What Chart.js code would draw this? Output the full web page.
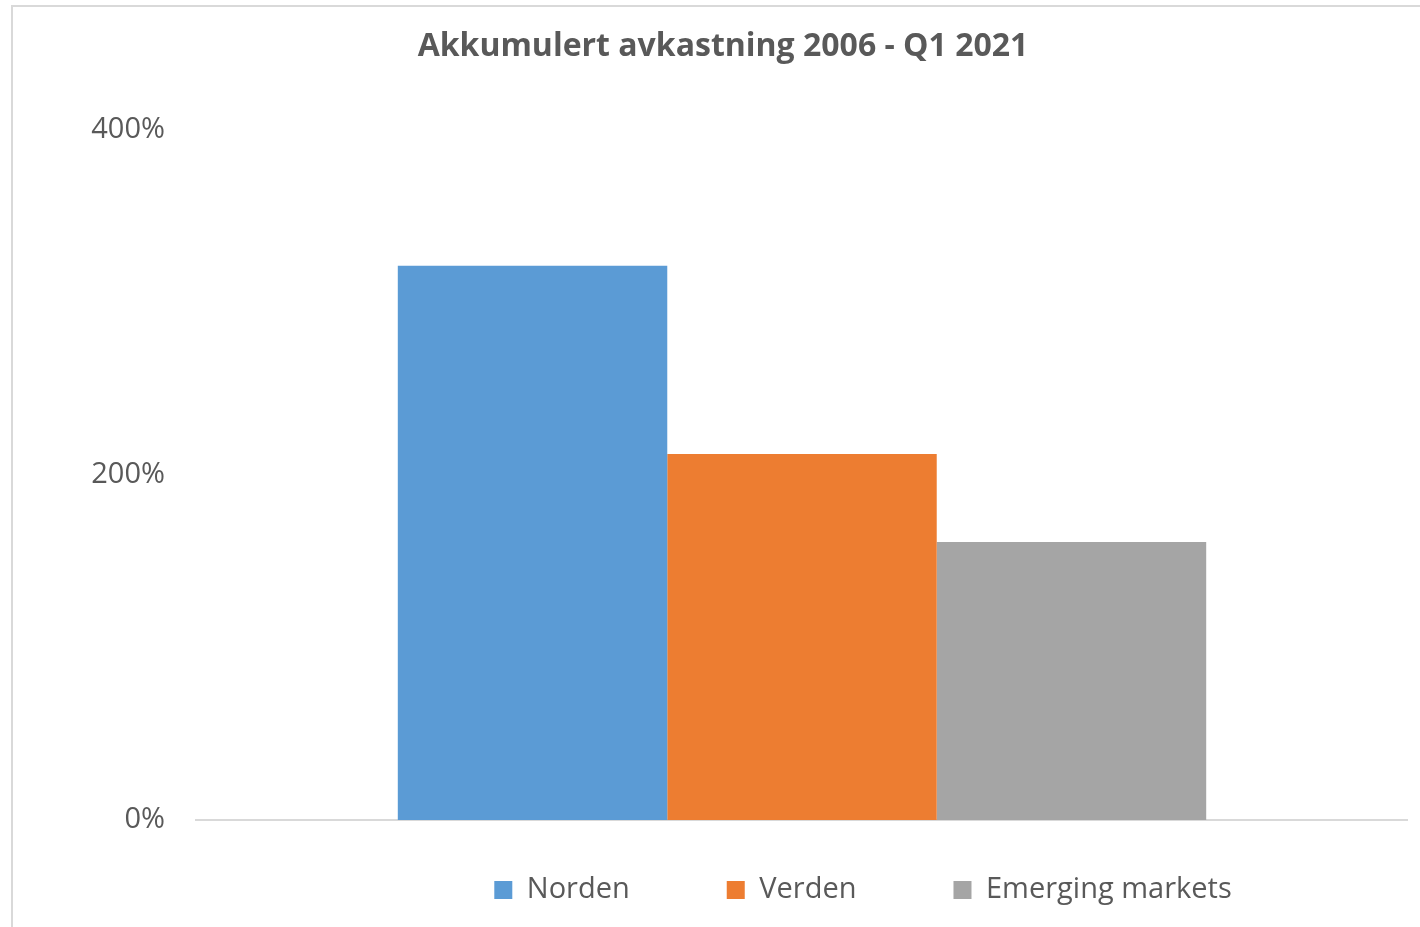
<!DOCTYPE html>
<html>
<head>
<meta charset="utf-8">
<script src="https://cdn.jsdelivr.net/npm/chart.js@4"></script>
<style>
    body { margin: 0; overflow: hidden; background: #fff; }
    #ramme {
        position: absolute; left: 11px; top: 5px; width: 1500px; height: 1000px;
        border-left: 2px solid #d9d9d9; border-top: 2px solid #d9d9d9;
    }
    #graf { position: absolute; left: 25px; top: 0; }
</style>
</head>
<body>
<div id="ramme"><canvas id="graf" width="1370" height="913"></canvas></div>
<script>
// Akkumulert avkastning 2006 - Q1 2021
const kategorier = [''];
const serier = ['Norden', 'Verden', 'Emerging markets'];
const verdier = [321, 212, 161];
const farger = ['#5B9BD5', '#ED7D31', '#A5A5A5'];
const yTicks = [0, 200, 400];

const tekstFarge = '#595959';
const fontNavn = "'Open Sans', sans-serif";

// flytter legenden til samme plass som i Excel-grafen
const flyttLegende = {
    id: 'flyttLegende',
    afterLayout(chart) {
        const lg = chart.legend;
        lg.left += 140;
        lg.right += 140;
        lg.top = 883 - 97 - 14.5;
        lg.height = 150;
        lg.bottom = lg.top + lg.height;
    }
};

const ctx = document.getElementById('graf').getContext('2d');
const chart = new Chart(ctx, {
    type: 'bar',
    data: {
        labels: kategorier,
        datasets: serier.map((navn, i) => ({
            label: navn,
            data: [verdier[i]],
            backgroundColor: farger[i],
            borderWidth: 0,
            categoryPercentage: 0.667,
            barPercentage: 1
        }))
    },
    options: {
        responsive: false,
        animation: false,
        layout: { padding: 0 },
        scales: {
            x: {
                grid: { display: false },
                ticks: { display: false },
                border: { display: true, color: '#d9d9d9', width: 2 },
                afterFit: s => { s.height = 0; }
            },
            y: {
                min: 0,
                max: 400,
                afterBuildTicks: s => { s.ticks = yTicks.map(v => ({ value: v })); },
                grid: { display: false },
                border: { display: false },
                ticks: {
                    padding: 23,
                    color: tekstFarge,
                    font: { size: 29, family: fontNavn },
                    callback: v => v + '%'
                },
                afterFit: s => { s.width = 158; }
            }
        },
        plugins: {
            title: {
                display: true,
                text: 'Akkumulert avkastning 2006 - Q1 2021',
                color: tekstFarge,
                font: { size: 32, weight: 'bold', family: fontNavn, lineHeight: 1.2 },
                padding: { top: 21, bottom: 63 }
            },
            legend: {
                display: true,
                position: 'bottom',
                maxHeight: 100,
                labels: {
                    color: tekstFarge,
                    boxWidth: 18,
                    boxHeight: 18,
                    padding: 97,
                    font: { size: 29, family: fontNavn }
                }
            },
            tooltip: { enabled: false }
        }
    },
    plugins: [flyttLegende]
});
</script>
</body>
</html>
